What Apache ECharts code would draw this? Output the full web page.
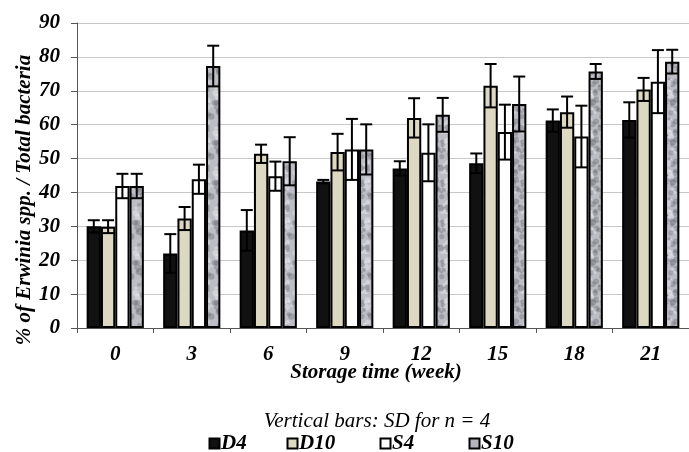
<!DOCTYPE html>
<html>
<head>
<meta charset="utf-8">
<script src="https://cdn.jsdelivr.net/npm/echarts@6/dist/echarts.min.js"></script>
<style>html,body{margin:0;padding:0;background:#fff}#c{width:689px;height:452px}</style>
</head>
<body>
<div id="c"></div>
<script>
const categories = ['0', '3', '6', '9', '12', '15', '18', '21'];
const seriesNames = ['D4', 'D10', 'S4', 'S10'];
const D4 = [30.0, 22.0, 28.8, 43.2, 47.1, 48.6, 61.2, 61.4];
const D4_sd = [1.8, 5.7, 6.0, 0.5, 2.1, 2.9, 3.3, 5.2];
const D10 = [29.9, 32.3, 51.4, 51.9, 62.0, 71.5, 63.7, 70.4];
const D10_sd = [1.9, 3.4, 2.7, 5.4, 5.8, 6.4, 4.6, 3.4];
const S4 = [41.9, 43.9, 44.8, 52.7, 51.7, 57.8, 56.5, 72.7];
const S4_sd = [3.6, 4.3, 4.3, 9.0, 8.4, 8.1, 9.1, 9.3];
const S10 = [41.9, 77.3, 49.2, 52.7, 62.9, 66.1, 75.7, 78.6];
const S10_sd = [3.6, 6.0, 7.1, 7.4, 5.0, 8.1, 2.2, 3.5];
const yTicks = [0, 10, 20, 30, 40, 50, 60, 70, 80, 90];

const values = [D4, D10, S4, S10];
const sds = [D4_sd, D10_sd, S4_sd, S10_sd];

// mottled grey texture for S10 (deterministic, style only)
function makeTexture() {
  const S = 40;
  const cv = document.createElement('canvas');
  cv.width = S; cv.height = S;
  const ctx = cv.getContext('2d');
  ctx.fillStyle = '#bdbdc5';
  ctx.fillRect(0, 0, S, S);
  function h(n) { const s = Math.sin(n * 127.1 + 311.7) * 43758.5453; return s - Math.floor(s); }
  for (let i = 0; i < 70; i++) {
    const x = h(i * 3.1) * S, y = h(i * 7.7 + 1) * S, r = 1.2 + h(i * 5.3 + 2) * 2.2;
    const t = h(i * 11.3 + 3);
    ctx.fillStyle = t > 0.5 ? 'rgba(90,90,100,0.32)' : 'rgba(235,235,242,0.45)';
    for (const dx of [-S, 0, S]) for (const dy of [-S, 0, S]) {
      ctx.beginPath(); ctx.arc(x + dx, y + dy, r, 0, Math.PI * 2); ctx.fill();
    }
  }
  return cv;
}
const tex = makeTexture();
const fills = ['#111111', '#ddd8c2', '#ffffff', { image: tex, repeat: 'repeat' }];

const FF = '"Liberation Serif", "Times New Roman", serif';
const chart = echarts.init(document.getElementById('c'), null, { renderer: 'canvas' });

const barSeries = seriesNames.map((n, i) => ({
  name: n,
  type: 'bar',
  data: values[i],
  barWidth: 14.3,
  barGap: '0%',
  itemStyle: { color: fills[i], borderColor: '#000', borderWidth: 2 },
  emphasis: { disabled: true }
}));

const errData = [];
seriesNames.forEach((n, si) => {
  categories.forEach((c, ci) => errData.push([ci, values[si][ci], sds[si][ci], si]));
});

const errSeries = {
  type: 'custom',
  name: 'err',
  z: 10,
  data: errData,
  encode: { x: 0, y: 1 },
  renderItem: function (params, api) {
    const ci = api.value(0), v = api.value(1), sd = api.value(2), si = api.value(3);
    const catW = api.size([1, 0])[0];
    const bw = catW * 0.748 / 4;
    const top = api.coord([ci, v + sd]);
    const bot = api.coord([ci, v - sd]);
    const x = top[0] + (si - 1.5) * bw;
    const cap = 6;
    const st = { stroke: '#000', lineWidth: 2 };
    return {
      type: 'group',
      children: [
        { type: 'line', shape: { x1: x, y1: top[1], x2: x, y2: bot[1] }, style: st },
        { type: 'line', shape: { x1: x - cap, y1: top[1], x2: x + cap, y2: top[1] }, style: st },
        { type: 'line', shape: { x1: x - cap, y1: bot[1], x2: x + cap, y2: bot[1] }, style: st }
      ]
    };
  }
};

// manual legend (positions of each entry)
const legendX = [209, 287, 380, 469];
const legendGraphics = [];
seriesNames.forEach((n, i) => {
  legendGraphics.push({
    type: 'rect', shape: { x: legendX[i] + 0.5, y: 438.5, width: 10, height: 10 },
    style: { fill: i === 3 ? '#b4b4bc' : fills[i], stroke: '#000', lineWidth: 2 }
  });
  legendGraphics.push({
    type: 'text', x: legendX[i] + 12, y: 444,
    style: { text: n, font: 'italic bold 21px ' + FF, fill: '#000', align: 'left', verticalAlign: 'middle' }
  });
});

chart.setOption({
  animation: false,
  backgroundColor: '#fff',
  grid: { left: 77, top: 23, width: 613, height: 305 },
  xAxis: {
    type: 'category',
    data: categories,
    axisLine: { lineStyle: { color: '#555', width: 1 } },
    axisTick: { show: true, length: 5, lineStyle: { color: '#555' } },
    axisLabel: { fontFamily: FF, fontWeight: 'bold', fontStyle: 'italic', fontSize: 21, color: '#000', margin: 16 }
  },
  yAxis: {
    type: 'value',
    min: 0, max: 90, interval: 10,
    axisLine: { show: true, lineStyle: { color: '#555', width: 1 } },
    axisTick: { show: true, length: 6, lineStyle: { color: '#555' } },
    splitLine: { lineStyle: { color: '#c8c8c8', width: 1 } },
    axisLabel: {
      fontFamily: FF, fontWeight: 'bold', fontStyle: 'italic', fontSize: 21, color: '#000', margin: 17,
      formatter: v => yTicks.indexOf(v) >= 0 ? String(v) : ''
    }
  },
  graphic: [
    {
      type: 'text', x: 25, y: 200, rotation: Math.PI / 2,
      style: { text: '% of Erwinia spp. / Total bacteria', font: 'italic bold 21px ' + FF, fill: '#000', align: 'center', verticalAlign: 'middle' }
    },
    {
      type: 'text', x: 376, y: 373,
      style: { text: 'Storage time (week)', font: 'italic bold 21px ' + FF, fill: '#000', align: 'center', verticalAlign: 'middle' }
    },
    {
      type: 'text', x: 377, y: 421,
      style: { text: 'Vertical bars: SD for n = 4', font: 'italic 21px ' + FF, fill: '#000', align: 'center', verticalAlign: 'middle' }
    }
  ].concat(legendGraphics),
  series: barSeries.concat([errSeries])
});
</script>
</body>
</html>
